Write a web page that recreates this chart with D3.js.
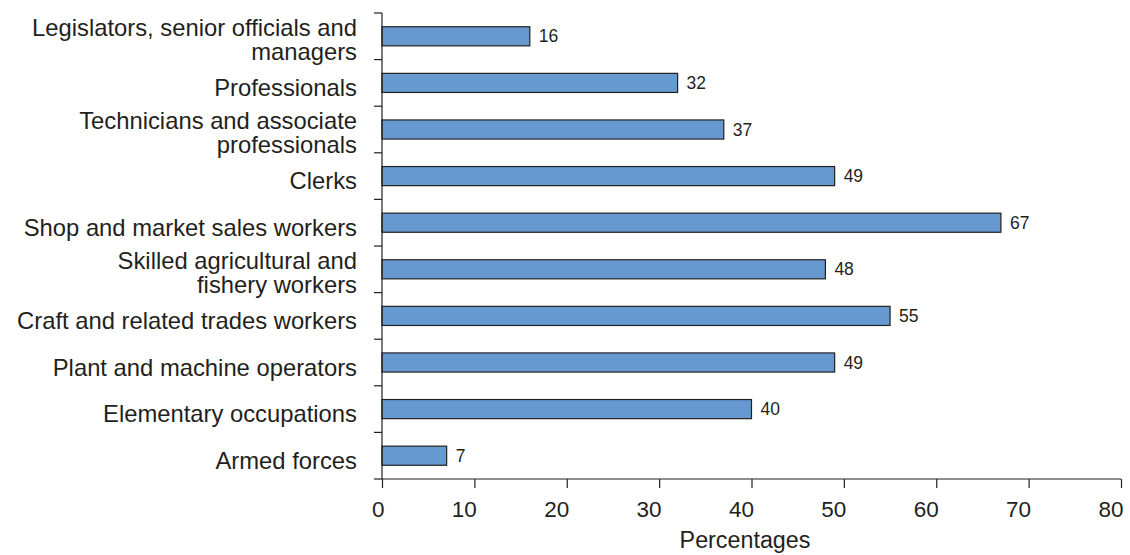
<!DOCTYPE html>
<html>
<head>
<meta charset="utf-8">
<script src="https://cdn.jsdelivr.net/npm/d3@7"></script>
<style>
  html, body { margin: 0; padding: 0; background: #fff; }
  svg { display: block; font-family: "Liberation Sans", Arial, sans-serif; }
</style>
</head>
<body>
<svg id="chart" width="1130" height="555"></svg>
<script>
// Occupational groups, top to bottom
const categories = [
  ["Legislators, senior officials and", "managers"],
  ["Professionals"],
  ["Technicians and associate", "professionals"],
  ["Clerks"],
  ["Shop and market sales workers"],
  ["Skilled agricultural and", "fishery workers"],
  ["Craft and related trades workers"],
  ["Plant and machine operators"],
  ["Elementary occupations"],
  ["Armed forces"]
];
const values = [16, 32, 37, 49, 67, 48, 55, 49, 40, 7];
const xTicks = [0, 10, 20, 30, 40, 50, 60, 70, 80];
const xTitle = "Percentages";

const svg = d3.select("#chart");
const plotLeft = 382, plotRight = 1121, plotTop = 13, plotBottom = 479;
const ink = "#231f20";

const x = d3.scaleLinear().domain([0, 80]).range([plotLeft, plotRight]);
const y = d3.scaleBand().domain(d3.range(categories.length)).range([plotTop, plotBottom]).paddingInner(0.59).paddingOuter(0.295);

// Bars
svg.append("g").selectAll("rect").data(values).join("rect")
  .attr("x", x(0))
  .attr("y", (d, i) => y(i))
  .attr("width", d => x(d) - x(0))
  .attr("height", y.bandwidth())
  .attr("fill", "#6699d0")
  .attr("stroke", ink)
  .attr("stroke-width", 1.2);

// Value labels
svg.append("g").selectAll("text").data(values).join("text")
  .attr("x", d => x(d) + 9)
  .attr("y", (d, i) => y(i) + y.bandwidth() / 2)
  .attr("dy", "0.35em")
  .attr("font-size", 17.5)
  .attr("fill", ink)
  .text(d => d);

// X axis (tick labels sit just left of their ticks)
const xAxis = svg.append("g")
  .attr("transform", `translate(0,${plotBottom})`)
  .call(d3.axisBottom(x).tickValues(xTicks).tickSize(9).tickPadding(9));
xAxis.selectAll("text")
  .attr("font-size", 22.5)
  .attr("fill", ink)
  .attr("font-family", "Liberation Sans, Arial, sans-serif")
  .attr("text-anchor", "end")
  .attr("x", 2)
  .attr("y", 22);
xAxis.selectAll("line, path").attr("stroke", ink).attr("stroke-width", 1.2);
xAxis.select(".domain").attr("d", `M${plotLeft},0H${plotRight}`);

// Y axis line with separator ticks between categories
const bandStep = (plotBottom - plotTop) / categories.length;
const yTickPos = d3.range(categories.length + 1).map(i => plotTop + i * bandStep);
const yg = svg.append("g");
yg.append("line").attr("x1", plotLeft).attr("x2", plotLeft).attr("y1", plotTop).attr("y2", plotBottom)
  .attr("stroke", ink).attr("stroke-width", 1.2);
yg.selectAll("line.tk").data(yTickPos).join("line").attr("class", "tk")
  .attr("x1", plotLeft - 8).attr("x2", plotLeft).attr("y1", d => d).attr("y2", d => d)
  .attr("stroke", ink).attr("stroke-width", 1.2);

// Category labels (baselines relative to the bar centre)
const lineH = 24;
yg.selectAll("text.cat").data(categories).join("text").attr("class", "cat")
  .attr("text-anchor", "end")
  .attr("font-size", 23.8)
  .attr("fill", ink)
  .each(function(lines, i) {
    const cy = y(i) + y.bandwidth() / 2;
    const first = lines.length === 1 ? cy + 13 : cy - 0.5;
    const t = d3.select(this);
    lines.forEach((ln, k) => {
      t.append("tspan")
        .attr("x", 357)
        .attr("y", first + k * lineH)
        .text(ln);
    });
  });

// Axis title
svg.append("text")
  .attr("x", 745)
  .attr("y", 548)
  .attr("text-anchor", "middle")
  .attr("font-size", 23.3)
  .attr("fill", ink)
  .text(xTitle);
</script>
</body>
</html>
